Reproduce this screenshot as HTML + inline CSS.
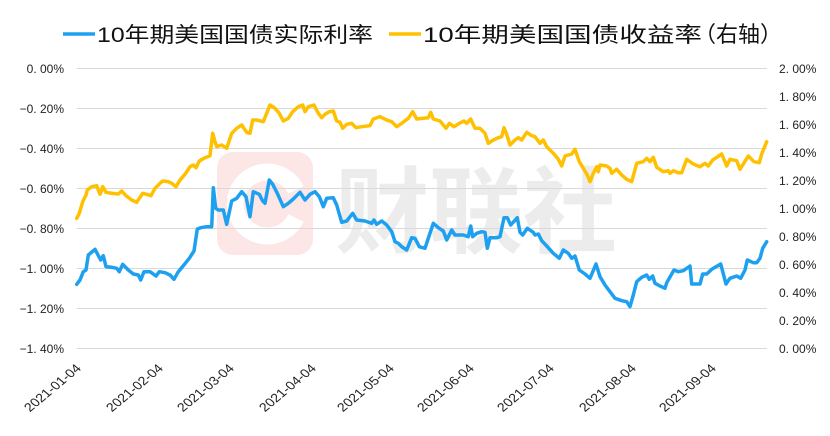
<!DOCTYPE html>
<html><head><meta charset="utf-8"><style>
html,body{margin:0;padding:0;background:#fff;}
svg{display:block;}
text{font-family:"Liberation Sans","Noto Sans CJK SC",sans-serif;}
</style></head><body>
<svg width="830" height="436" viewBox="0 0 830 436" xmlns="http://www.w3.org/2000/svg">
<rect width="830" height="436" fill="#fff"/>
<!-- watermark -->
<rect x="217" y="152" width="96" height="103" rx="16" fill="#fce6e6"/>
<path d="M296 190 A32 32 0 1 0 296 218" fill="none" stroke="#fff" stroke-width="17"/>
<text x="335" y="245" style="font-family:'Noto Sans CJK SC',sans-serif;font-weight:bold" font-size="94" fill="#ececec" textLength="282" lengthAdjust="spacingAndGlyphs">财联社</text>
<!-- grid -->
<g stroke="#d9d9d9" stroke-width="1">
<line x1="77" y1="68.5" x2="767" y2="68.5"/>
<line x1="77" y1="108.5" x2="767" y2="108.5"/>
<line x1="77" y1="148.5" x2="767" y2="148.5"/>
<line x1="77" y1="188.5" x2="767" y2="188.5"/>
<line x1="77" y1="228.5" x2="767" y2="228.5"/>
<line x1="77" y1="268.5" x2="767" y2="268.5"/>
<line x1="77" y1="308.5" x2="767" y2="308.5"/>
<line x1="77" y1="348.5" x2="767" y2="348.5"/>
</g>
<!-- left axis labels -->
<g font-size="12" fill="#222" text-anchor="end">
<text x="64" y="73">0. 00%</text>
<text x="64" y="113">−0. 20%</text>
<text x="64" y="153">−0. 40%</text>
<text x="64" y="193">−0. 60%</text>
<text x="64" y="233">−0. 80%</text>
<text x="64" y="273">−1. 00%</text>
<text x="64" y="313">−1. 20%</text>
<text x="64" y="353">−1. 40%</text>
</g>
<!-- right axis labels -->
<g font-size="12" fill="#222">
<text x="779" y="73">2. 00%</text>
<text x="779" y="101">1. 80%</text>
<text x="779" y="129">1. 60%</text>
<text x="779" y="157">1. 40%</text>
<text x="779" y="185">1. 20%</text>
<text x="779" y="213">1. 00%</text>
<text x="779" y="241">0. 80%</text>
<text x="779" y="269">0. 60%</text>
<text x="779" y="297">0. 40%</text>
<text x="779" y="325">0. 20%</text>
<text x="779" y="353">0. 00%</text>
</g>
<!-- x labels -->
<g font-size="12" fill="#222" text-anchor="end">
<text transform="translate(82,369) scale(1.2,1) rotate(-45)">2021-01-04</text>
<text transform="translate(164,369) scale(1.2,1) rotate(-45)">2021-02-04</text>
<text transform="translate(235,369) scale(1.2,1) rotate(-45)">2021-03-04</text>
<text transform="translate(317,369) scale(1.2,1) rotate(-45)">2021-04-04</text>
<text transform="translate(395,369) scale(1.2,1) rotate(-45)">2021-05-04</text>
<text transform="translate(475,369) scale(1.2,1) rotate(-45)">2021-06-04</text>
<text transform="translate(555,369) scale(1.2,1) rotate(-45)">2021-07-04</text>
<text transform="translate(637,369) scale(1.2,1) rotate(-45)">2021-08-04</text>
<text transform="translate(717,369) scale(1.2,1) rotate(-45)">2021-09-04</text>
</g>
<!-- series -->
<polyline fill="none" stroke="#FFC000" stroke-width="3.5" stroke-linejoin="round" stroke-linecap="round" points="76.7,218.3 79.3,213.3 82.7,201.7 86,195 87.3,190 91.7,186.7 96.7,185.7 100,194.3 102.7,186.7 106,192.3 111.7,193.3 118.3,194 121.7,191 126,195.7 131.7,200 136.7,202.3 142.7,193.3 146.7,194.3 151,195.7 155,188.3 160,183.3 162.7,181 168.3,181.7 171.7,183.3 176,186.7 180,180 185,174.3 190,166.7 193.3,165 196,167.7 199.3,161 205,157.7 210,155.7 212.7,133.3 215,141.7 216.7,146.7 221.7,145 226.7,148.3 231.7,133.3 236.7,128.3 241.7,125 246.7,132.3 250,133.3 252.7,120 256.7,120 263.3,121.7 270,105 275,108.3 279.3,113.3 283.3,121 288.3,118.3 292.7,111.7 298.3,106.7 302.7,105 305,111.7 308.3,106.7 314,105 318.3,113.3 321.7,117.7 325,114.3 329.3,111.7 333.3,111 336.7,121 340,122.3 342.7,128.3 346.7,124.3 351.7,123.3 356,127.7 361.7,126.7 370,125.7 373.3,119 380,116.7 386.7,120 391.7,121.7 396.7,126.7 401.7,123.3 408.3,118.3 412.7,111.7 416.7,119 423.3,118.3 428.3,117.7 430.7,112.3 433.3,119 440,121 446,128.3 449.3,123.3 454,126.7 459.3,123.3 464,121 466.7,123.3 470.7,119 475,128.3 480,128.3 485,133.3 488.3,143.3 493.3,140 498.3,137.7 501.7,136.7 504,127.7 506.7,134.3 510,145 515,140 518.3,137.7 521.7,140 526.7,132.3 531.7,135.7 535,136.7 540,143.3 543.3,140 546.7,146.7 553.3,153.3 558.3,159.3 561.7,166 565,156 571.7,154 575,149.3 579.3,161.7 583.3,168.3 587.3,175 590,181.7 593.3,173.3 596.7,166.7 598.3,171.7 600,165 606.7,166 610,168.3 611.7,173.3 616.7,169.3 621.7,175 626.7,179.3 631.7,181.7 636.7,163.3 643.3,161.7 646.7,158.3 650,161.7 653.3,157.3 656.7,167.3 663.3,171.7 668.3,170.7 670,173.3 673.3,170.7 678.3,172.7 681.7,172.7 686.7,159.3 693.3,164 700,166.7 705,163.3 708.3,166 712.7,160 721.7,154 726.7,166 730,159.3 736.7,160.7 740,169.3 748.3,156 754,161.7 759.3,162.7 761.7,154 766.7,141.7"/>
<polyline fill="none" stroke="#1EA0F0" stroke-width="3.5" stroke-linejoin="round" stroke-linecap="round" points="76.7,284.3 80,280 83.3,271.7 86,270 88.3,255 95,249.3 100.7,260 103.3,255.7 106,266.7 111.7,267.3 116.7,268.3 119.3,271.7 122.7,264.3 128.3,270 133.3,274 138.3,275 140.7,280 144,271.7 150,271.7 156,276 159.3,271.7 165,272.7 170,275 174,279.3 178.3,271.7 183.3,265.7 189.3,258.3 194,251 197.3,229 200.7,227.7 206.7,226.7 211.7,226.7 213.3,187.7 215.7,208.3 218.3,210 223.3,210 226.7,224.3 231.7,201 236.7,198.3 241.7,191.7 246,196.7 250,216.7 253.3,191.7 259.3,194.3 262.7,201 265,203.3 269.3,180 272.7,184.3 277.3,193.3 283.3,206.7 288.3,203.3 293.3,199 300,192.3 305,200 310,194.3 315,191.7 319.3,196.7 323.3,206.7 326.7,198.3 333.3,197.7 336.7,205 341.7,222.3 346.7,221 352.7,213.3 356.7,220 365,221 371.7,223.3 374,220 376.7,224.3 381.7,221 386.7,225 391.7,231.7 395,241.7 398.3,243.3 401.7,246.7 406.7,250 411.7,237.7 415,238.3 419.3,246.7 425,248.3 428.3,238.3 433.3,223.3 438.3,227.7 443.3,231 446.7,240 451.7,230 455,235 463.3,235 468.3,236.7 470.7,226 472.7,236.7 476.7,233.3 481.7,231.7 485,232.3 487.3,248.3 490,237.7 496.7,237.7 500,236.7 504,217.7 507.3,217.7 510.7,225 517.3,217.7 520,232.3 522.7,235 527.3,228.3 533.3,232.3 535,235 538.3,234 541.7,240.7 546.7,246 553.3,253.3 559.3,258.3 563.3,250 568.3,253.3 571.7,258.3 575,256 579.3,270 585,274 590,278.3 596,264 600,276.7 605,285 610,291.7 615,298.3 621.7,300.7 626.7,301.7 630,306.7 633.3,295 636.7,281.7 641.7,277.3 646.7,275 649.3,279.3 652.7,276 655,283.3 660,286 665,288.3 666.7,282.7 674,270 678.3,271.7 683.3,270.7 690,266 691.7,284 700,284 702.7,274 706.7,274 711.7,269.3 720.7,264 726,284 730,278.3 736.7,276 740.7,278.3 745,270 747.3,260 753.3,262.7 756.7,262.7 760,258.3 762.7,248.3 766.7,241.7"/>
<!-- legend -->
<line x1="63" y1="34" x2="95" y2="34" stroke="#1EA0F0" stroke-width="3.5"/>
<text x="97" y="42" font-size="21" fill="#111" textLength="276" lengthAdjust="spacingAndGlyphs">10年期美国国债实际利率</text>
<line x1="389" y1="34" x2="421" y2="34" stroke="#FFC000" stroke-width="3.5"/>
<text x="423" y="42" font-size="21" fill="#111" textLength="279" lengthAdjust="spacingAndGlyphs">10年期美国国债收益率</text>
<text x="694" y="42" font-size="22" fill="#111" style="font-family:'Noto Sans CJK SC',sans-serif">（右轴）</text>
</svg>
</body></html>
